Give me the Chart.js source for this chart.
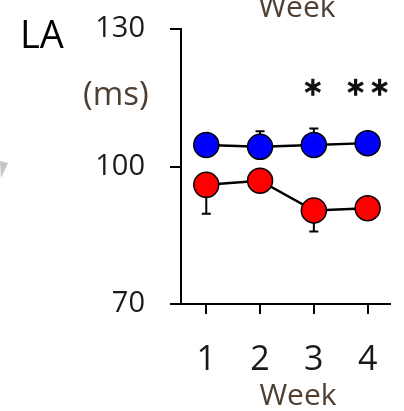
<!DOCTYPE html>
<html>
<head>
<meta charset="utf-8">
<script src="https://cdn.jsdelivr.net/npm/chart.js@4/dist/chart.umd.min.js"></script>
<style>
html,body{margin:0;padding:0;background:#fff;}
#wrap{width:404px;height:411px;position:relative;}
</style>
</head>
<body>
<div id="wrap"><canvas id="c" width="404" height="411"></canvas></div>
<script>
// ---- data ----
const weeks = [1, 2, 3, 4];
const blueMean = [104.7, 104.3, 104.7, 105.1];
const blueErr  = [2.0, 3.4, 3.6, 2.0];     // upper whiskers
const redMean  = [96.0, 96.9, 90.4, 90.9];
const redErr   = [6.3, 2.0, 4.6, 2.0];     // lower whiskers
const yTicks   = [70, 100, 130];
const sigMarks = [{week: 3, label: '*'}, {week: 4, label: '**'}];
const panelLabel = 'LA';
const yUnit = '(ms)';
const xTitle = 'Week';

const FONT = '"Open Sans", "Liberation Sans", sans-serif';

const errorBars = {
  id: 'errorBars',
  beforeDatasetsDraw(chart) {
    const ctx = chart.ctx;
    const xs = chart.scales.x, ys = chart.scales.y;
    const sets = [
      {mean: blueMean, err: blueErr, dir: 1},
      {mean: redMean, err: redErr, dir: -1}
    ];
    ctx.save();
    ctx.strokeStyle = '#000';
    ctx.lineWidth = 2;
    sets.forEach(s => {
      weeks.forEach((w, i) => {
        const x = xs.getPixelForValue(w);
        const y0 = ys.getPixelForValue(s.mean[i]);
        const y1 = ys.getPixelForValue(s.mean[i] + s.dir * s.err[i]);
        ctx.beginPath();
        ctx.moveTo(x, y0); ctx.lineTo(x, y1);
        ctx.moveTo(x - 4.5, y1); ctx.lineTo(x + 4.5, y1);
        ctx.stroke();
      });
    });
    ctx.restore();
  }
};

function drawAsterisk(ctx, cx, cy, r) {
  ctx.beginPath();
  [90, 30, -30].forEach(a => {
    const rad = a * Math.PI / 180;
    ctx.moveTo(cx - r * Math.cos(rad), cy - r * Math.sin(rad));
    ctx.lineTo(cx + r * Math.cos(rad), cy + r * Math.sin(rad));
  });
  ctx.stroke();
}

const annotations = {
  id: 'annotations',
  afterDraw(chart) {
    const ctx = chart.ctx;
    const xs = chart.scales.x, ys = chart.scales.y;
    ctx.save();
    // panel label
    ctx.fillStyle = '#000';
    ctx.textBaseline = 'alphabetic';
    ctx.textAlign = 'left';
    ctx.font = '38px ' + FONT;
    ctx.fillText(panelLabel, 20, 48);
    // unit
    ctx.fillStyle = '#4f3f33';
    ctx.font = '33px ' + FONT;
    ctx.fillText(yUnit, 83, 105);
    // titles
    ctx.textAlign = 'center';
    ctx.font = '30px ' + FONT;
    ctx.fillText(xTitle, 297, 17);
    ctx.fillText(xTitle, 298, 405);
    // gray fragment at left edge
    ctx.fillStyle = 'rgba(150,150,150,0.55)';
    ctx.beginPath();
    ctx.moveTo(0, 161); ctx.lineTo(8, 163); ctx.lineTo(1, 178); ctx.closePath();
    ctx.fill();
    // significance asterisks
    ctx.strokeStyle = '#111';
    ctx.lineWidth = 3.2;
    ctx.lineCap = 'butt';
    const yStar = ys.getPixelForValue(117.3);
    sigMarks.forEach(m => {
      const cx = xs.getPixelForValue(m.week);
      const n = m.label.length;
      for (let k = 0; k < n; k++) {
        const off = (k - (n - 1) / 2) * 24;
        drawAsterisk(ctx, cx + off - (n === 1 ? 1 : 0), yStar, 8.5);
      }
    });
    ctx.restore();
  }
};

new Chart(document.getElementById('c'), {
  type: 'line',
  data: {
    datasets: [
      {
        label: 'blue',
        data: weeks.map((w, i) => ({x: w, y: blueMean[i]})),
        borderColor: '#000', borderWidth: 2.5,
        pointBackgroundColor: '#0000ff', pointBorderColor: '#000',
        pointBorderWidth: 1.5, pointRadius: 12.5, tension: 0
      },
      {
        label: 'red',
        data: weeks.map((w, i) => ({x: w, y: redMean[i]})),
        borderColor: '#000', borderWidth: 2.5,
        pointBackgroundColor: '#ff0000', pointBorderColor: '#000',
        pointBorderWidth: 1.5, pointRadius: 12.5, tension: 0
      }
    ]
  },
  options: {
    responsive: false,
    animation: false,
    devicePixelRatio: 1,
    events: [],
    layout: {padding: {top: 29, right: 8, left: 0, bottom: 0}},
    plugins: {legend: {display: false}, tooltip: {enabled: false}},
    scales: {
      x: {
        type: 'linear', position: 'bottom',
        min: 0.53, max: 4.416,
        afterBuildTicks(s) { s.ticks = weeks.map(v => ({value: v})); },
        afterFit(s) { s.height = 107; s.paddingLeft = 0; s.paddingRight = 0; },
        grid: {drawOnChartArea: false, drawTicks: true, tickLength: 10, color: '#000', lineWidth: 2},
        border: {display: true, color: '#000', width: 2},
        ticks: {font: {family: FONT, size: 34}, color: '#1a1a1a', padding: 26, autoSkip: false, maxRotation: 0,
                callback: v => String(v)}
      },
      y: {
        type: 'linear', position: 'left',
        min: 70, max: 130,
        afterBuildTicks(s) { s.ticks = yTicks.map(v => ({value: v})); },
        afterFit(s) { s.width = 181; s.paddingTop = 0; s.paddingBottom = 0; },
        grid: {drawOnChartArea: false, drawTicks: true, tickLength: 11, color: '#000', lineWidth: 2},
        border: {display: true, color: '#000', width: 2},
        ticks: {font: {family: FONT, size: 29}, color: '#1a1a1a', padding: 25, autoSkip: false,
                callback: v => String(v)}
      }
    }
  },
  plugins: [errorBars, annotations]
});
</script>
</body>
</html>
